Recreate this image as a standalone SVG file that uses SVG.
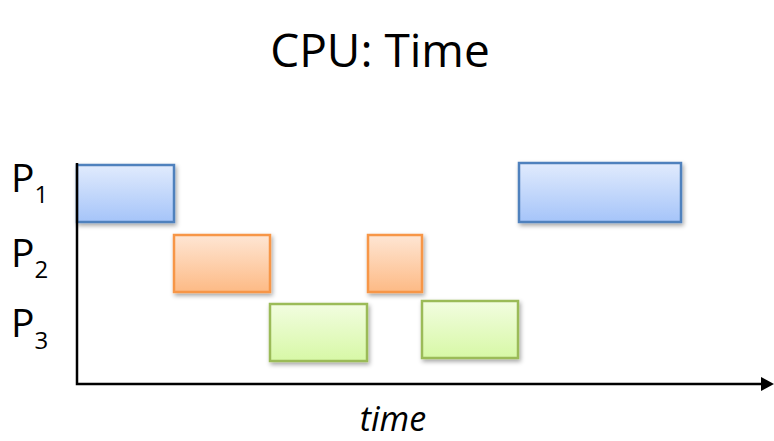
<svg xmlns="http://www.w3.org/2000/svg" width="774" height="441" viewBox="0 0 774 441">
<style>
.lbl{font-family:"Open Sans","Liberation Sans",sans-serif;fill:#000}
.box{stroke-width:2.5}
.p1{fill:url(#gBlue);stroke:#4f81bd}
.p2{fill:url(#gOrange);stroke:#f79646}
.p3{fill:url(#gGreen);stroke:#9bbb59}
.axis{stroke:#000;stroke-width:2.5;fill:none}
</style>
<defs>
<linearGradient id="gBlue" x1="0" y1="0" x2="0" y2="1"><stop offset="0" stop-color="#e1ebfd"/><stop offset="1" stop-color="#a5c4f9"/></linearGradient>
<linearGradient id="gOrange" x1="0" y1="0" x2="0" y2="1"><stop offset="0" stop-color="#fee6d4"/><stop offset="1" stop-color="#fdba85"/></linearGradient>
<linearGradient id="gGreen" x1="0" y1="0" x2="0" y2="1"><stop offset="0" stop-color="#f2fde0"/><stop offset="1" stop-color="#d7f8a6"/></linearGradient>
<filter id="sh" x="-10%" y="-20%" width="130%" height="150%"><feDropShadow dx="1.5" dy="2.5" stdDeviation="2" flood-color="#000" flood-opacity="0.35"/></filter>
</defs>
<rect width="774" height="441" fill="#fff"/>
<g id="title"><text class="lbl" x="380" y="67" font-size="46" text-anchor="middle">CPU: Time</text></g>
<g id="labels">
<text class="lbl" x="11" y="192" font-size="39">P<tspan font-size="24" dy="11">1</tspan></text>
<text class="lbl" x="11" y="267" font-size="39">P<tspan font-size="24" dy="11">2</tspan></text>
<text class="lbl" x="11" y="337" font-size="39">P<tspan font-size="24" dy="12">3</tspan></text>
</g>
<g id="bars">
<g id="p1a"><rect class="box p1" x="77" y="165" width="97" height="57" filter="url(#sh)"/></g>
<g id="p2a"><rect class="box p2" x="174" y="235" width="96" height="57" filter="url(#sh)"/></g>
<g id="p3a"><rect class="box p3" x="270" y="304" width="97" height="57" filter="url(#sh)"/></g>
<g id="p2b"><rect class="box p2" x="368" y="235" width="54" height="57" filter="url(#sh)"/></g>
<g id="p3b"><rect class="box p3" x="422" y="301" width="96" height="57" filter="url(#sh)"/></g>
<g id="p1c"><rect class="box p1" x="519" y="163" width="162" height="59" filter="url(#sh)"/></g>
</g>
<g id="connectors">
<path class="axis" d="M77,163 V384 H764"/>
<polygon points="761,377 774,384 761,391" fill="#000"/>
</g>
<g id="xlabel"><text class="lbl" x="393" y="431" font-size="34" font-style="italic" text-anchor="middle">time</text></g>
</svg>
